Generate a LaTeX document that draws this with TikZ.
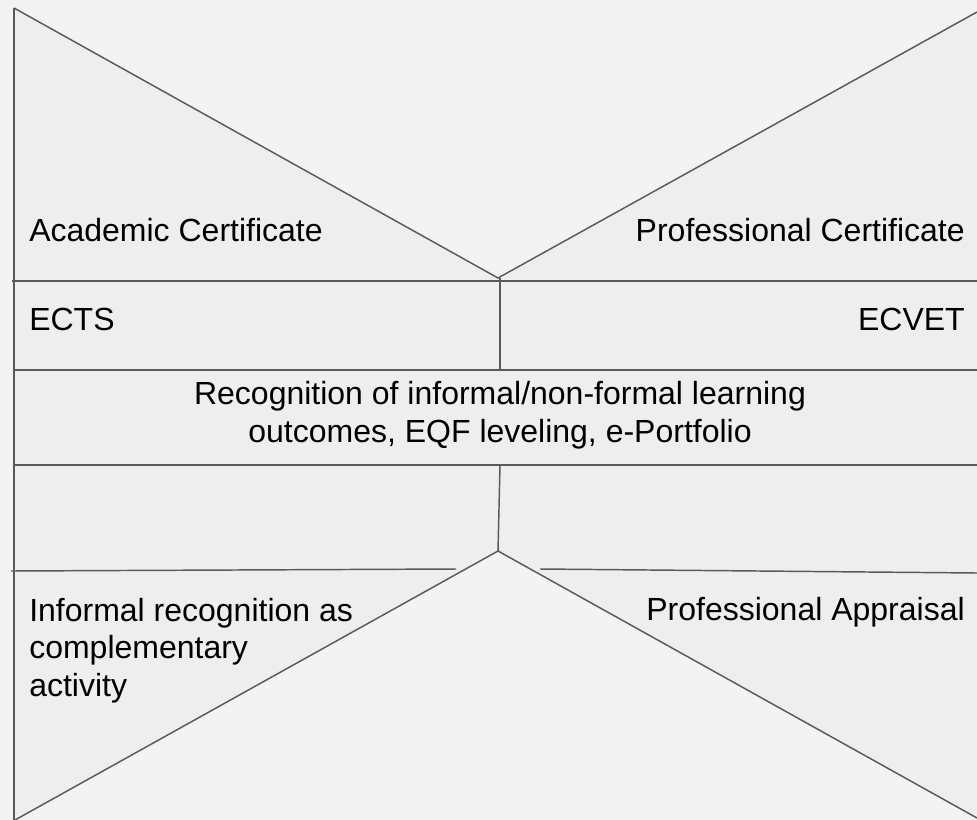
\documentclass[tikz,border=0pt]{standalone}
\usepackage{fontspec}
\setmainfont{Liberation Sans}
\definecolor{bgcol}{HTML}{F3F3F3}
\definecolor{shadecol}{HTML}{EEEEEE}
\definecolor{linecol}{HTML}{5A5A5A}
\begin{document}
\begin{tikzpicture}
      [%%%%%%%%%%%%%%%%%%%%%%%%%%%%%%
      x=0.75pt, y=-0.75pt,
      rule/.style={draw=linecol, line width=1.1pt},
      label/.style={inner sep=0pt, font=\fontsize{24}{28}\selectfont, text=black},
      ]%%%%%%%%%%%%%%%%%%%%%%%%%%%%%%

      \fill[bgcol] (0,0) rectangle (977,820);
      \useasboundingbox (0,0) rectangle (977,820);
      \fill[shadecol] (14,8) -- (498,278) -- (977,12) -- (977,818) -- (498,551) -- (15,820) -- cycle;

      \draw[rule] (14,8) -- (14,820);
      \draw[rule] (14,8) -- (498,278) -- (977,12);
      \draw[rule] (12,281) -- (977,281);
      \draw[rule] (500,278) -- (500,370);
      \draw[rule] (14,370) -- (977,370);
      \draw[rule] (14,465) -- (977,465);
      \draw[rule] (500,465) -- (498,551);
      \draw[rule] (15,820) -- (498,551) -- (977,818);
      \draw[rule] (11,571) -- (456,569);
      \draw[rule] (540,569) -- (977,573);

      \node[label, anchor=base west] (acad) at (29,241) {Academic Certificate};
      \node[label, anchor=base east] (prof) at (965,241) {Professional Certificate};
      \node[label, anchor=base west] (ects) at (29,330) {ECTS};
      \node[label, anchor=base east] (ecvet) at (965,330) {ECVET};
      \node[label, anchor=base, align=center] (recog) at (500,442)
            {Recognition of informal/non-formal learning\\outcomes, EQF leveling, e-Portfolio};
      \node[label, anchor=base west, align=left] (informal) at (29,696)
            {Informal recognition as\\complementary\\activity};
      \node[label, anchor=base east] (appraisal) at (965,620) {Professional Appraisal};
    \end{tikzpicture}
\end{document}
